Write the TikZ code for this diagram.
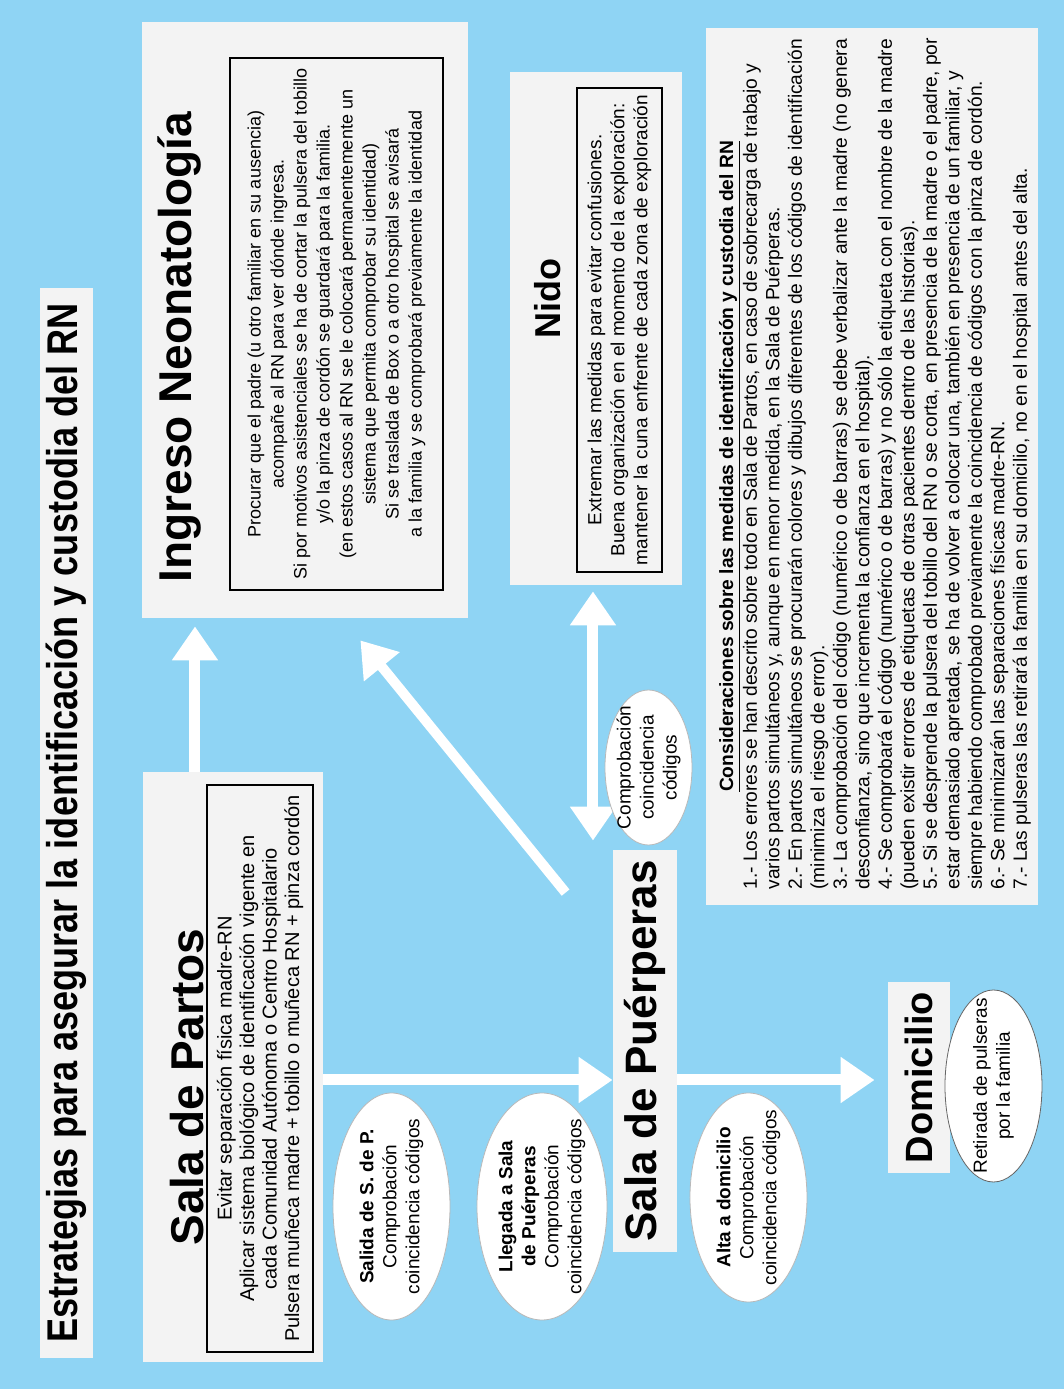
\documentclass[tikz,border=0pt]{standalone}
\usepackage{fontspec}
\setmainfont{Liberation Sans}
\newfontfamily\narrowsans[FakeStretch=0.84]{Liberation Sans}
\usetikzlibrary{arrows.meta,shapes.geometric,calc}
\definecolor{skyblue}{RGB}{143,212,244}
\definecolor{panelgray}{RGB}{243,243,243}
\begin{document}
\begin{tikzpicture}[x=0.5pt, y=0.5pt, rotate=90, transform shape,
    every node/.style={font=\fontsize{9.5}{11.5}\selectfont},
    panel/.style={fill=panelgray, inner sep=0pt},
    heading/.style={font=\fontsize{23}{27}\selectfont\bfseries},
    listbox/.style={draw, line width=0.6pt, fill=panelgray, align=center, inner sep=0pt},
    bubble/.style={ellipse, fill=white, draw=gray!55, line width=0.4pt, inner sep=0pt},
    fatarrow/.style={draw=white, line width=5.5pt, -{Triangle[width=22pt,length=17pt]}},
    fatboth/.style={draw=white, line width=5.5pt, {Triangle[width=22pt,length=17pt]}-{Triangle[width=22pt,length=17pt]}}]
  \useasboundingbox (0,0) rectangle (1389,1064);
  \fill[skyblue] (0,0) rectangle (1389,1064);

  % title
  \node[panel, minimum width=535pt, minimum height=26.5pt,
        font=\fontsize{21.5}{25}\selectfont\narrowsans\bfseries] (titlebar) at (566,997.5)
        {Estrategias para asegurar la identificación y custodia del RN};

  % Sala de Partos
  \node[panel, minimum width=295pt, minimum height=90pt] (partos) at (322,831) {};
  \node[heading] (partoshead) at (302,877) {Sala de Partos};
  \node[listbox, minimum width=283.5pt, minimum height=53pt, font=\fontsize{10}{11.25}\selectfont] (partosbox) at (320.5,804)
    {Evitar separación física madre-RN\\
     Aplicar sistema biológico de identificación vigente en\\
     cada Comunidad Autónoma o Centro Hospitalario\\
     Pulsera muñeca madre + tobillo o muñeca RN + pinza cordón};

  % Ingreso Neonatologia
  \node[panel, minimum width=298pt, minimum height=163pt] (ingreso) at (1069,759) {};
  \node[heading] (ingresohead) at (1042,884) {Ingreso Neonatología};
  \node[listbox, minimum width=266pt, minimum height=106.5pt, font=\fontsize{9}{11.5}\selectfont] (ingresobox) at (1065,727.5)
    {Procurar que el padre (u otro familiar en su ausencia)\\
     acompañe al RN para ver dónde ingresa.\\
     Si por motivos asistenciales se ha de cortar la pulsera del tobillo\\
     y/o la pinza de cordón se guardará para la familia.\\
     (en estos casos al RN se le colocará permanentemente un\\
     sistema que permita comprobar su identidad)\\
     Si se traslada de Box o a otro hospital se avisará\\
     a la familia y se comprobará previamente la identidad};

  % Nido
  \node[panel, minimum width=256.5pt, minimum height=86pt] (nido) at (1060.5,468) {};
  \node[heading, font=\fontsize{18}{22}\selectfont\bfseries] (nidohead) at (1090,516) {Nido};
  \node[listbox, minimum width=242pt, minimum height=42.5pt] (nidobox) at (1059,444.5)
    {Extremar las medidas para evitar confusiones.\\
     Buena organización en el momento de la exploración:\\
     mantener la cuna enfrente de cada zona de exploración};

  % Consideraciones
  \node[panel, minimum width=438.5pt, minimum height=166pt] (consid) at (922.5,192) {};
  \node[font=\fontsize{9.6}{11.5}\selectfont\bfseries] (considhead) at (922.5,334)
    {\underline{Consideraciones sobre las medidas de identificación y custodia del RN}};
  \node[anchor=west, align=left, inner sep=0pt, font=\fontsize{9.6}{11.25}\selectfont] (considtext) at (499,177)
    {1.- Los errores se han descrito sobre todo en Sala de Partos, en caso de sobrecarga de trabajo y\\
     varios partos simultáneos y, aunque en menor medida, en la Sala de Puérperas.\\
     2.- En partos simultáneos se procurarán colores y dibujos diferentes de los códigos de identificación\\
     (minimiza el riesgo de error).\\
     3.- La comprobación del código (numérico o de barras) se debe verbalizar ante la madre (no genera\\
     desconfianza, sino que incrementa la confianza en el hospital).\\
     4.- Se comprobará el código (numérico o de barras) y no sólo la etiqueta con el nombre de la madre\\
     (pueden existir errores de etiquetas de otras pacientes dentro de las historias).\\
     5.- Si se desprende la pulsera del tobillo del RN o se corta, en presencia de la madre o el padre, por\\
     estar demasiado apretada, se ha de volver a colocar una, también en presencia de un familiar, y\\
     siempre habiendo comprobado previamente la coincidencia de códigos con la pinza de cordón.\\
     6.- Se minimizarán las separaciones físicas madre-RN.\\
     7.- Las pulseras las retirará la familia en su domicilio, no en el hospital antes del alta.};

  % Sala de Puerperas y Domicilio
  \node[panel, minimum width=201pt, minimum height=32pt, font=\fontsize{22}{26}\selectfont\bfseries] (puerperas) at (338,419) {Sala de Puérperas};
  \node[panel, minimum width=95.5pt, minimum height=31pt, font=\fontsize{19}{23}\selectfont\bfseries] (domicilio) at (311.5,145) {Domicilio};

  % arrows
  \draw[fatarrow, shorten >=4pt] ($(partos.east)+(0,38)$) -- ($(ingreso.west)+(0,110)$);
  \draw[fatarrow] ($(partos.south)+(-13,0)$) -- ($(puerperas.north)+(-29,0)$);
  \draw[fatarrow, shorten >=6.5pt] ($(puerperas.south)+(-29,0)$) -- ($(domicilio.north)+(-2.5,0)$);
  \draw[fatboth, shorten <=3pt] ($(nido.west)+(0,3)$) -- ($(puerperas.east)+(9,52)$);
  \draw[fatarrow, line width=5pt] ($(puerperas.north east)+(-43,47)$) -- ($(ingreso.south west)+(-22,108)$);

  % checkpoints
  \node[bubble, minimum width=113.5pt, minimum height=58.5pt] (salida) at (182.5,672.5) {};
  \node[align=center] (salidatext) at (salida) {\textbf{Salida de S. de P.}\\Comprobación\\coincidencia códigos};
  \node[bubble, minimum width=113.5pt, minimum height=65pt] (llegada) at (182.5,522) {};
  \node[align=center] (llegadatext) at (llegada) {\textbf{Llegada a Sala}\\\textbf{de Puérperas}\\Comprobación\\coincidencia códigos};
  \node[bubble, minimum width=77.5pt, minimum height=43.5pt] (nidocheck) at (621.5,415.5) {};
  \node[align=center] (nidochecktext) at (nidocheck) {Comprobación\\coincidencia\\códigos};
  \node[bubble, minimum width=104.5pt, minimum height=58.5pt] (alta) at (191.5,315.5) {};
  \node[align=center] (altatext) at (alta) {\textbf{Alta a domicilio}\\Comprobación\\coincidencia códigos};
  \node[bubble, draw=gray!80!black, minimum width=96pt, minimum height=48.5pt] (retirada) at (303,70.5) {};
  \node[align=center] (retiradatext) at (retirada) {Retirada de pulseras\\por la familia};
\end{tikzpicture}
\end{document}
